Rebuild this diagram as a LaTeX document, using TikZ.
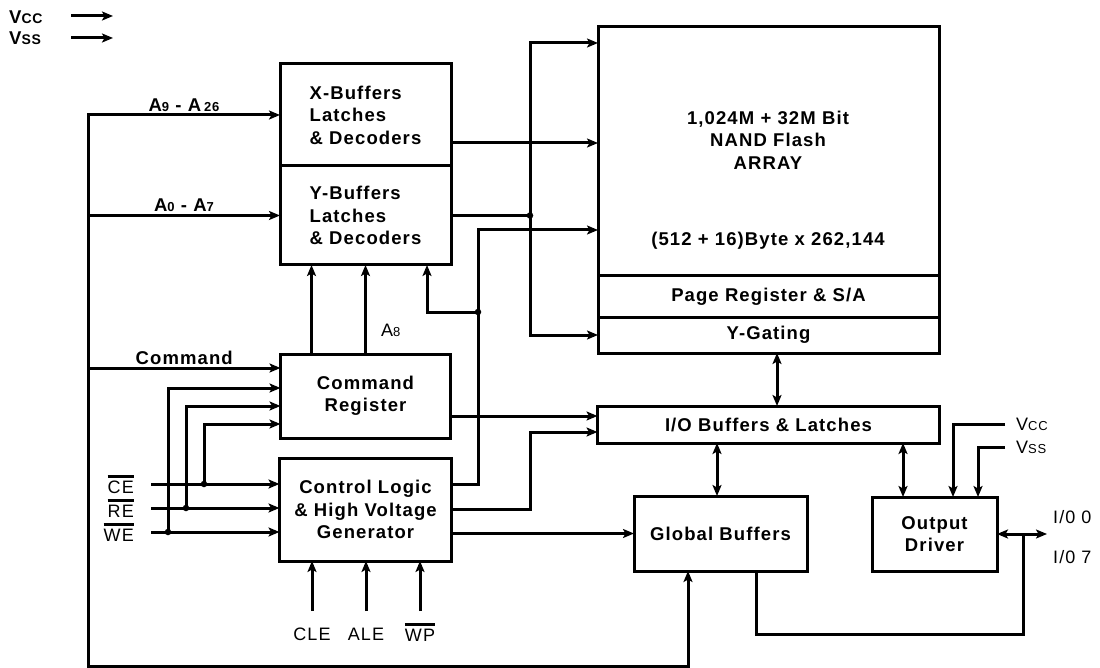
\documentclass[tikz,border=0pt]{standalone}
\usepackage{fontspec}
\setmainfont{Liberation Sans}[LetterSpace=6]
\usetikzlibrary{arrows.meta, positioning, calc}

\newcommand{\boxfont}{\fontsize{18.5}{22.5}\selectfont\bfseries}
\newcommand{\sigfont}{\fontsize{18}{21}\selectfont}
\newcommand{\railfont}{\fontsize{18.5}{20}\selectfont\bfseries}
\newcommand{\lowsz}[2][13]{{\fontsize{#1}{#1}\selectfont #2}}
\newcommand{\negsig}[1]{\leavevmode\vbox{\hrule height 3pt\kern 3pt\hbox{#1}}}

\begin{document}
\begin{tikzpicture}[
    x=1pt, y=-1pt,
    block/.style={draw, line width=3pt, inner sep=0pt, outer sep=0pt, align=center, font=\boxfont},
    txt/.style={inner sep=2pt, align=center, font=\boxfont},
    sig/.style={inner sep=2pt, font=\sigfont},
    wire/.style={line width=3pt},
    arrow/.style={wire, -{Stealth[length=11pt, width=9pt, inset=2.5pt]}},
    biarrow/.style={wire, {Stealth[length=11pt, width=9pt, inset=2.5pt]}-{Stealth[length=11pt, width=9pt, inset=2.5pt]}},
    junction/.style={circle, fill, inner sep=0pt, minimum size=6.5pt}
]
\useasboundingbox (0,0) rectangle (1100,668);

% address / command side
\node[block, minimum width=171pt, minimum height=102pt, align=left] (xbuf) at (365.5,115) {X-Buffers\\Latches\\\& Decoders};
\node[block, minimum width=171pt, minimum height=99pt, align=left, below=0pt of xbuf] (ybuf) {Y-Buffers\\Latches\\\& Decoders};
\node[block, minimum width=170pt, minimum height=84pt, below=89pt of ybuf] (cmdreg) {Command\\Register};
\node[block, minimum width=172pt, minimum height=103pt, below=20pt of cmdreg] (ctrl) {Control Logic\\\& High Voltage\\Generator};

% cell array
\node[block, minimum width=341pt, minimum height=249pt] (array) at (768.5,151.5) {};
\node[block, minimum width=341pt, minimum height=41pt, below=0pt of array] (pagereg) {Page Register \& S/A};
\node[block, minimum width=341pt, minimum height=36pt, below=0pt of pagereg] (ygate) {Y-Gating};
\node[txt] (arraytitle) at (768,140) {1,024M + 32M Bit\\NAND Flash\\ARRAY};
\node[txt] (arraysize) at (768,241) {(512 + 16)Byte x 262,144};

% data side
\node[block, minimum width=342pt, minimum height=37pt, below=53pt of ygate] (iobuf) {I/O Buffers \& Latches};
\node[block, minimum width=173pt, minimum height=75pt] (glob) at (720.5,533.5) {Global Buffers};
\node[block, minimum width=125pt, minimum height=74pt] (outdrv) at (934.5,534) {Output\\Driver};

% supply pins
\node[anchor=west, inner sep=0pt, font=\railfont] (vcc) at (9,17) {V\lowsz[14]{CC}};
\node[anchor=west, inner sep=0pt, font=\railfont] (vss) at (9,38) {V\lowsz[14]{SS}};
\coordinate (vccfrom) at (71,16);
\coordinate (vccto) at (113,16);
\coordinate (vssfrom) at (71,38);
\coordinate (vssto) at (113,38);
\draw[arrow] (vccfrom) -- (vccto);
\draw[arrow] (vssfrom) -- (vssto);

% address bus
\coordinate (bus) at (88,666);
\draw[biarrow] (xbuf.west) -| node[txt, above, pos=0.25] (a9lbl) {A\lowsz{9} - A\,\lowsz{26}} (bus) -| ([xshift=-32.5pt]glob.south);
\draw[arrow] (ybuf.west -| bus) -- node[txt, above] (a0lbl) {A\lowsz{0} - A\lowsz{7}} (ybuf.west);
\coordinate (cmdin) at ([yshift=28pt]cmdreg.west);
\draw[arrow] (cmdin -| bus) -- node[txt, above] (cmdlbl) {Command} (cmdin);

% decoder outputs
\coordinate (xout) at ([yshift=-28pt]xbuf.east);
\draw[arrow] (xout) -- (xout -| array.west);
\coordinate (coltop) at (530,43);
\draw[biarrow] (coltop -| array.west) -- (coltop) |- (ygate.west);
\draw[wire] (ybuf.east) -- (ybuf.east -| coltop) node[junction] (ydot) {};

% command register to Y decoder
\coordinate (cmdup) at ([xshift=-54pt]cmdreg.north);
\draw[arrow] (cmdup) -- (cmdup |- ybuf.south);
\draw[arrow] (cmdreg.north) -- node[sig, right=12pt, pos=0.27] (a8lbl) {A\lowsz{8}} (cmdreg.north |- ybuf.south);

% control logic outputs
\coordinate (rowbus) at (478,230);
\draw[arrow] ([yshift=25.5pt]ctrl.east) -| (rowbus) -- (rowbus -| array.west);
\node[junction] (a8dot) at (478,312) {};
\coordinate (yup) at ([xshift=61.5pt]ybuf.south);
\draw[arrow] (a8dot.center) -| (yup);
\coordinate (cmdout) at ([yshift=-20pt]cmdreg.east);
\draw[arrow] (cmdout) -- (cmdout -| iobuf.west);
\coordinate (ioin) at ([yshift=-7.5pt]iobuf.west);
\draw[arrow] (ctrl.east) -| (ioin -| coltop) -- (ioin);
\draw[arrow] (glob.west -| ctrl.east) -- (glob.west);

% data path
\coordinate (gatedata) at ([xshift=8.5pt]ygate.south);
\draw[biarrow] (gatedata) -- (gatedata |- iobuf.north);
\coordinate (globdata) at ([xshift=-3.5pt]glob.north);
\draw[biarrow] (globdata |- iobuf.south) -- (globdata);
\coordinate (drvdata) at ([xshift=-31.5pt]outdrv.north);
\draw[biarrow] (drvdata |- iobuf.south) -- (drvdata);

% output driver supply and pins
\node[sig, anchor=west, inner xsep=11pt] (vccr) at (1005,424) {V\lowsz{CC}};
\node[sig, anchor=west, inner xsep=11pt] (vssr) at (1005,447) {V\lowsz{SS}};
\draw[arrow] (vccr.west) -| ([xshift=18.5pt]outdrv.north);
\draw[arrow] (vssr.west) -| ([xshift=43.5pt]outdrv.north);
\coordinate (iobranch) at ([xshift=26pt]outdrv.east);
\coordinate (ioend) at ([xshift=50pt]outdrv.east);
\coordinate (loopcorner) at (1023,634);
\draw[biarrow] (outdrv.east) -- (ioend);
\draw[wire] ([xshift=35.5pt]glob.south) |- (loopcorner) -- (iobranch);
\node[sig, anchor=west] (io0) at (1051,517) {I/0 0};
\node[sig, anchor=west] (io7) at (1051,557) {I/0 7};

% chip enable, read enable, write enable
\coordinate (cein) at (151,484);
\coordinate (rein) at (151,508);
\coordinate (wein) at (151,532);
\node[sig, left=15pt of cein] (ce) {\negsig{CE}};
\node[sig, left=15pt of rein] (re) {\negsig{RE}};
\node[sig, left=15pt of wein] (we) {\negsig{WE}};
\draw[arrow] (cein) -- (cein -| ctrl.west);
\draw[arrow] (rein) -- (rein -| ctrl.west);
\draw[arrow] (wein) -- (wein -| ctrl.west);
\node[junction] (cedot) at ([xshift=53pt]cein) {};
\node[junction] (redot) at ([xshift=35pt]rein) {};
\node[junction] (wedot) at ([xshift=17pt]wein) {};
\draw[arrow] (cedot.center) |- ([yshift=-28pt]cmdreg.west);
\draw[arrow] (redot.center) |- ([yshift=-10pt]cmdreg.west);
\draw[arrow] (wedot.center) |- ([yshift=8pt]cmdreg.west);

% latch enables and write protect
\coordinate (clein) at (312,611);
\coordinate (alein) at (366,611);
\coordinate (wpin) at (420,611);
\draw[arrow] (clein) -- (clein |- ctrl.south);
\draw[arrow] (alein) -- (alein |- ctrl.south);
\draw[arrow] (wpin) -- (wpin |- ctrl.south);
\node[sig, below=15pt of clein] (cle) {CLE};
\node[sig, below=15pt of alein] (ale) {ALE};
\node[sig, below=10pt of wpin] (wp) {\negsig{WP}};
\end{tikzpicture}
\end{document}
